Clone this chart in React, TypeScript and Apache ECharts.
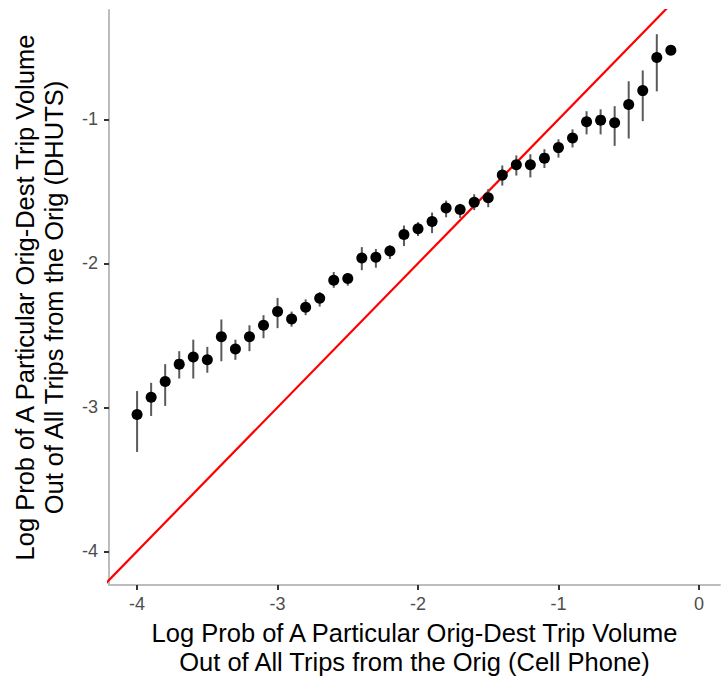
import React, { useEffect, useRef } from "react";
import * as echarts from "echarts";

const xValues = [-4.0, -3.9, -3.8, -3.7, -3.6, -3.5, -3.4, -3.3, -3.2, -3.1, -3.0, -2.9, -2.8, -2.7, -2.6, -2.5, -2.4, -2.3, -2.2, -2.1, -2.0, -1.9, -1.8, -1.7, -1.6, -1.5, -1.4, -1.3, -1.2, -1.1, -1.0, -0.9, -0.8, -0.7, -0.6, -0.5, -0.4, -0.3, -0.2];
const yMean = [-3.05, -2.93, -2.82, -2.70, -2.65, -2.67, -2.51, -2.595, -2.51, -2.43, -2.335, -2.386, -2.305, -2.243, -2.117, -2.105, -1.962, -1.958, -1.914, -1.80, -1.76, -1.709, -1.615, -1.626, -1.575, -1.545, -1.387, -1.315, -1.315, -1.269, -1.196, -1.129, -1.016, -1.005, -1.023, -0.896, -0.80, -0.57, -0.52];
const yLow = [-3.31, -3.06, -2.99, -2.80, -2.80, -2.76, -2.68, -2.67, -2.61, -2.52, -2.45, -2.44, -2.36, -2.30, -2.17, -2.155, -2.047, -2.03, -1.97, -1.88, -1.81, -1.79, -1.68, -1.684, -1.63, -1.61, -1.46, -1.39, -1.403, -1.338, -1.265, -1.195, -1.104, -1.104, -1.184, -1.133, -1.012, -0.805, -0.52];
const yHigh = [-2.887, -2.83, -2.70, -2.61, -2.53, -2.58, -2.39, -2.53, -2.43, -2.36, -2.24, -2.335, -2.25, -2.20, -2.06, -2.07, -1.887, -1.90, -1.875, -1.737, -1.714, -1.647, -1.564, -1.587, -1.52, -1.484, -1.32, -1.25, -1.242, -1.207, -1.138, -1.069, -0.943, -0.93, -0.908, -0.735, -0.66, -0.408, -0.52];
const xTicks = [-4, -3, -2, -1, 0];
const yTicks = [-4, -3, -2, -1];
const refLine = [[-4.4, -4.4], [0.3, 0.3]];

export default function App() {
  const ref = useRef<HTMLDivElement>(null);
  useEffect(() => {
    document.body.style.margin = "0";
    if (!ref.current) return;
    const chart = echarts.init(ref.current, undefined, { renderer: "svg" });
    const points = xValues.map((x, i) => [x, yMean[i]]);
    const bars = xValues.map((x, i) => [x, yLow[i], yHigh[i]]);
    const font = "'Liberation Sans', Arial, sans-serif";
    chart.setOption({
      animation: false,
      backgroundColor: "#ffffff",
      grid: { left: 109, right: 2, top: 10, bottom: 93 },
      xAxis: {
        type: "value",
        min: -4.2,
        max: 0.15,
        interval: 1,
        splitLine: { show: false },
        axisLine: { show: true, onZero: false, lineStyle: { color: "#bdbdbd", width: 2 } },
        axisTick: { show: true, length: 5, lineStyle: { color: "#333333", width: 2 }, customValues: xTicks },
        axisLabel: {
          color: "#4d4d4d", fontSize: 18, fontFamily: font, margin: 10,
          customValues: xTicks,
          formatter: (v: number) => String(v),
        },
        name: "Log Prob of A Particular Orig-Dest Trip Volume\nOut of All Trips from the Orig (Cell Phone)",
        nameLocation: "middle",
        nameGap: 32,
        nameTextStyle: { color: "#000000", fontSize: 25.5, fontFamily: font, lineHeight: 29, align: "center" },
      },
      yAxis: {
        type: "value",
        min: -4.235,
        max: -0.24,
        splitLine: { show: false },
        axisLine: { show: true, onZero: false, lineStyle: { color: "#bdbdbd", width: 2 } },
        axisTick: { show: true, length: 5, lineStyle: { color: "#333333", width: 2 }, customValues: yTicks },
        axisLabel: {
          color: "#4d4d4d", fontSize: 18, fontFamily: font, margin: 11,
          customValues: yTicks,
          formatter: (v: number) => String(v),
        },
        name: "Log Prob of A Particular Orig-Dest Trip Volume\nOut of All Trips from the Orig (DHUTS)",
        nameLocation: "middle",
        nameRotate: 90,
        nameGap: 41,
        nameTextStyle: { color: "#000000", fontSize: 25.5, fontFamily: font, lineHeight: 29, align: "center" },
      },
      series: [
        {
          type: "line",
          data: refLine,
          symbol: "none",
          clip: true,
          lineStyle: { color: "#ff0000", width: 2.2 },
          z: 1,
        },
        {
          type: "custom",
          data: bars,
          clip: true,
          z: 2,
          renderItem: (params: any, api: any) => {
            const x = api.value(0);
            const p1 = api.coord([x, api.value(1)]);
            const p2 = api.coord([x, api.value(2)]);
            return {
              type: "line",
              shape: { x1: p1[0], y1: p1[1], x2: p2[0], y2: p2[1] },
              style: { stroke: "#5a5a5a", lineWidth: 2 },
            };
          },
        },
        {
          type: "scatter",
          data: points,
          symbol: "circle",
          symbolSize: 11,
          itemStyle: { color: "#000000", opacity: 1 },
          z: 3,
        },
      ],
    });
    return () => chart.dispose();
  }, []);
  return <div ref={ref} style={{ width: 722, height: 681 }} />;
}
